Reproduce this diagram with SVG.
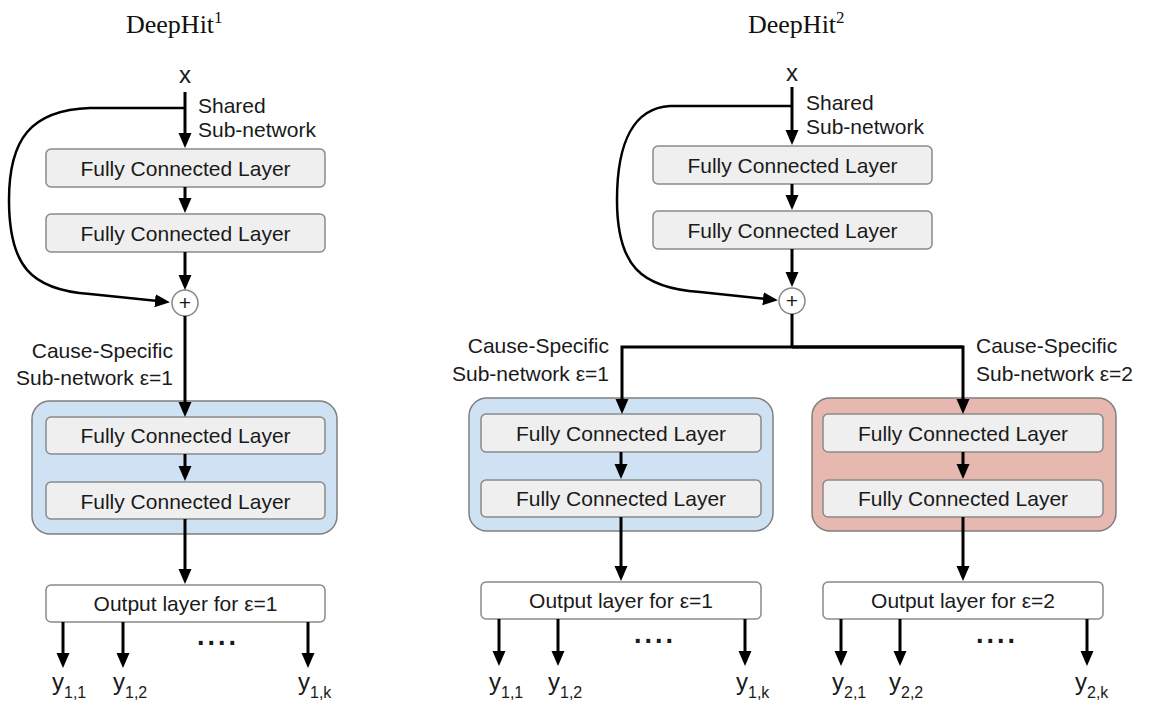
<svg xmlns="http://www.w3.org/2000/svg" width="1157" height="707" viewBox="0 0 1157 707">
<defs>
<style>
.t{font-family:"Liberation Sans",Arial,sans-serif;font-size:21px;fill:#1a1a1a}
.c{text-anchor:middle}
.r{text-anchor:end}
.xin{font-size:24px}
.title{font-family:"Liberation Serif","Times New Roman",serif;font-size:26px;fill:#111}
.fc{fill:#efefef;stroke:#8a8a8a;stroke-width:1.5}
.out{fill:#ffffff;stroke:#8a8a8a;stroke-width:1.5}
.blue{fill:#cfe2f3;stroke:#7f7f7f;stroke-width:1.5}
.red{fill:#e6b8af;stroke:#7f7f7f;stroke-width:1.5}
.ln{fill:none;stroke:#000;stroke-width:3}
.ln2{fill:none;stroke:#000;stroke-width:2.5}
.ar{marker-end:url(#ah)}
.circ{fill:#fff;stroke:#888;stroke-width:1.5}
.y{font-family:"Liberation Sans",Arial,sans-serif;font-size:24px;fill:#1a1a1a}
.dots{font-family:"Liberation Sans",Arial,sans-serif;font-size:27px;font-weight:bold;fill:#1a1a1a;letter-spacing:3px}
</style>
<marker id="ah" markerUnits="userSpaceOnUse" markerWidth="16" markerHeight="14" refX="3" refY="6.5" orient="auto">
<path d="M0,0 L15,6.5 L0,13 z" fill="#000"/>
</marker>
</defs>

<g id="titles">
<text class="title" x="126" y="33">DeepHit<tspan font-size="17" dy="-10">1</tspan></text>
<text class="title" x="748" y="33">DeepHit<tspan font-size="17" dy="-10">2</tspan></text>
</g>

<!-- Left diagram nodes -->
<g id="L_input"><text class="t c xin" x="185" y="83">x</text></g>
<g id="L_shared_label"><text class="t" x="198" y="113">Shared</text><text class="t" x="198" y="137">Sub-network</text></g>
<g id="L_fc1"><rect class="fc" x="46" y="149" width="279" height="38" rx="5"/><text class="t c" x="185.5" y="175.5">Fully Connected Layer</text></g>
<g id="L_fc2"><rect class="fc" x="46" y="214" width="279" height="38" rx="5"/><text class="t c" x="185.5" y="240.5">Fully Connected Layer</text></g>
<g id="L_plus"><circle class="circ" cx="185" cy="303" r="13"/><text class="t c" x="185" y="310">+</text></g>
<g id="L_cause_label"><text class="t r" x="173" y="358">Cause-Specific</text><text class="t r" x="173" y="385">Sub-network ε=1</text></g>
<g id="L_cs1">
<rect class="blue" x="32" y="401" width="305" height="133" rx="18"/>
<rect class="fc" x="46" y="417" width="279" height="37" rx="5"/><text class="t c" x="185.5" y="443">Fully Connected Layer</text>
<rect class="fc" x="46" y="482" width="279" height="37" rx="5"/><text class="t c" x="185.5" y="508.5">Fully Connected Layer</text>
</g>
<g id="L_out"><rect class="out" x="46" y="585" width="279" height="37" rx="5"/><text class="t c" x="185.5" y="611">Output layer for ε=1</text></g>
<g id="L_ys">
<text class="y" x="52" y="690">y<tspan font-size="16" dy="8">1,1</tspan></text>
<text class="y" x="113" y="690">y<tspan font-size="16" dy="8">1,2</tspan></text>
<text class="y" x="298" y="690">y<tspan font-size="16" dy="8">1,k</tspan></text>
<text class="dots" x="197" y="645">....</text>
</g>

<!-- Right diagram nodes -->
<g id="R_input"><text class="t c xin" x="792" y="81">x</text></g>
<g id="R_shared_label"><text class="t" x="806" y="110">Shared</text><text class="t" x="806" y="134">Sub-network</text></g>
<g id="R_fc1"><rect class="fc" x="653" y="146" width="279" height="38" rx="5"/><text class="t c" x="792.5" y="172.5">Fully Connected Layer</text></g>
<g id="R_fc2"><rect class="fc" x="653" y="211" width="279" height="38" rx="5"/><text class="t c" x="792.5" y="237.5">Fully Connected Layer</text></g>
<g id="R_plus"><circle class="circ" cx="792" cy="301" r="13"/><text class="t c" x="792" y="308">+</text></g>
<g id="R_cause1_label"><text class="t r" x="609" y="353">Cause-Specific</text><text class="t r" x="609" y="381">Sub-network ε=1</text></g>
<g id="R_cause2_label"><text class="t" x="976" y="353">Cause-Specific</text><text class="t" x="976" y="381">Sub-network ε=2</text></g>
<g id="R_cs1">
<rect class="blue" x="469" y="398" width="304" height="133" rx="18"/>
<rect class="fc" x="481" y="414" width="280" height="38" rx="5"/><text class="t c" x="621" y="440.5">Fully Connected Layer</text>
<rect class="fc" x="481" y="480" width="280" height="37" rx="5"/><text class="t c" x="621" y="506">Fully Connected Layer</text>
</g>
<g id="R_cs2">
<rect class="red" x="812" y="398" width="304" height="133" rx="18"/>
<rect class="fc" x="823" y="414" width="280" height="38" rx="5"/><text class="t c" x="963" y="440.5">Fully Connected Layer</text>
<rect class="fc" x="823" y="480" width="280" height="37" rx="5"/><text class="t c" x="963" y="506">Fully Connected Layer</text>
</g>
<g id="R_out1"><rect class="out" x="481" y="582" width="280" height="37" rx="5"/><text class="t c" x="621" y="608">Output layer for ε=1</text></g>
<g id="R_out2"><rect class="out" x="823" y="582" width="280" height="37" rx="5"/><text class="t c" x="963" y="608">Output layer for ε=2</text></g>
<g id="R_ys1">
<text class="y" x="489" y="690">y<tspan font-size="16" dy="8">1,1</tspan></text>
<text class="y" x="548" y="690">y<tspan font-size="16" dy="8">1,2</tspan></text>
<text class="y" x="736" y="690">y<tspan font-size="16" dy="8">1,k</tspan></text>
<text class="dots" x="634" y="643">....</text>
</g>
<g id="R_ys2">
<text class="y" x="832" y="690">y<tspan font-size="16" dy="8">2,1</tspan></text>
<text class="y" x="889" y="690">y<tspan font-size="16" dy="8">2,2</tspan></text>
<text class="y" x="1075" y="690">y<tspan font-size="16" dy="8">2,k</tspan></text>
<text class="dots" x="976" y="643">....</text>
</g>

<g id="connectors">
<!-- left -->
<path class="ln ar" d="M185,92 L185,136"/>
<path class="ln2 ar" d="M185,108 L90,108 C30,110 9,140 9,200 C9,265 30,290 90,294 L158,301"/>
<path class="ln ar" d="M185,187 L185,201"/>
<path class="ln ar" d="M185,252 L185,278"/>
<path class="ln ar" d="M185,316 L185,405"/>
<path class="ln ar" d="M185,454 L185,469"/>
<path class="ln ar" d="M185,519 L185,572"/>
<path class="ln ar" d="M63,622 L63,656"/>
<path class="ln ar" d="M123,622 L123,656"/>
<path class="ln ar" d="M308,622 L308,656"/>
<!-- right -->
<path class="ln ar" d="M792,87 L792,133"/>
<path class="ln2 ar" d="M792,106 L670,106 C635,108 617,140 617,200 C617,265 640,288 700,292 L766,299"/>
<path class="ln ar" d="M792,184 L792,198"/>
<path class="ln ar" d="M792,249 L792,275"/>
<path class="ln" d="M792,314 L792,347"/>
<path class="ln ar" d="M963,347 L622,347 L622,402"/>
<path class="ln ar" d="M792,347 L963,347 L963,402"/>
<path class="ln ar" d="M621,452 L621,467"/>
<path class="ln ar" d="M963,452 L963,467"/>
<path class="ln ar" d="M621,517 L621,569"/>
<path class="ln ar" d="M963,517 L963,569"/>
<path class="ln ar" d="M499,619 L499,654"/>
<path class="ln ar" d="M558,619 L558,654"/>
<path class="ln ar" d="M745,619 L745,654"/>
<path class="ln ar" d="M841,619 L841,654"/>
<path class="ln ar" d="M900,619 L900,654"/>
<path class="ln ar" d="M1087,619 L1087,654"/>
</g>
</svg>
